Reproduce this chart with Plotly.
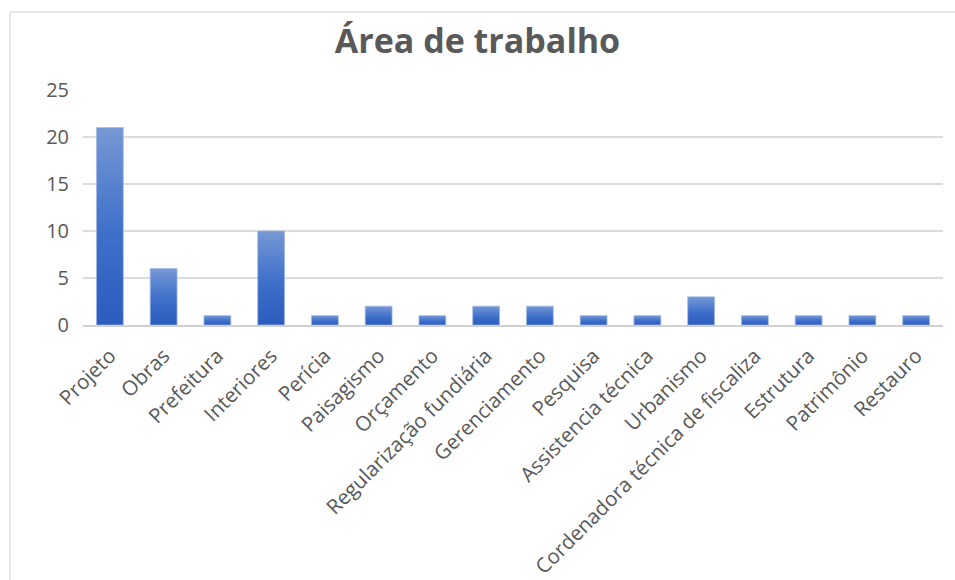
import plotly.graph_objects as go

# Work areas and how many respondents chose each
categories = [
    "Projeto", "Obras", "Prefeitura", "Interiores", "Perícia", "Paisagismo",
    "Orçamento", "Regularização fundiária", "Gerenciamento", "Pesquisa",
    "Assistencia técnica", "Urbanismo", "Cordenadora técnica de fiscaliza",
    "Estrutura", "Patrimônio", "Restauro",
]
counts = [21, 6, 1, 10, 1, 2, 1, 2, 2, 1, 1, 3, 1, 1, 1, 1]
y_ticks = [0, 5, 10, 15, 20, 25]

BAR_HALF = 0.25
GREY = "#595959"

fig = go.Figure()

# Each bar is a filled rectangle so it can carry a vertical gradient
for i, v in enumerate(counts):
    fig.add_trace(go.Scatter(
        x=[i - BAR_HALF, i + BAR_HALF, i + BAR_HALF, i - BAR_HALF, i - BAR_HALF],
        y=[0, 0, v, v, 0],
        mode="lines",
        line=dict(width=0.8, color="rgba(160,185,230,0.9)"),
        fill="toself",
        fillgradient=dict(
            type="vertical",
            colorscale=[[0, "#2c5cbd"], [0.45, "#3e6fcb"], [1, "#7698d4"]],
        ),
        hoverinfo="text",
        text=f"{categories[i]}: {v}",
        showlegend=False,
    ))

fig.update_layout(
    width=955,
    height=580,
    margin=dict(l=83, r=12, t=90, b=255),
    paper_bgcolor="white",
    plot_bgcolor="white",
    font=dict(family="Open Sans", color=GREY),
    title=dict(
        text="<b>Área de trabalho</b>",
        x=0.5, xanchor="center",
        y=0.93, yanchor="middle",
        font=dict(family="Open Sans", size=34, color=GREY),
    ),
    xaxis=dict(
        range=[-0.5, len(categories) - 0.5],
        tickmode="array",
        tickvals=list(range(len(categories))),
        ticktext=categories,
        tickangle=-45,
        tickfont=dict(size=20.5, color=GREY),
        ticklabelstandoff=9,
        automargin=False,
        showgrid=False,
        zeroline=False,
        showline=True,
        linecolor="#d0d0d0",
        linewidth=1.5,
        ticks="",
        fixedrange=True,
    ),
    yaxis=dict(
        range=[0, 25],
        tickmode="array",
        tickvals=y_ticks,
        tickfont=dict(size=20, color=GREY),
        automargin=False,
        showgrid=True,
        gridcolor="#dcdcdc",
        gridwidth=1.5,
        zeroline=False,
        showline=False,
        ticks="",
        ticklabelstandoff=13,
        fixedrange=True,
    ),
    shapes=[
        # chart frame (left and top edges)
        dict(type="line", xref="paper", yref="paper",
             x0=-0.085, x1=-0.085, y0=1.332, y1=-1.2,
             line=dict(color="#e0e0e0", width=1.5)),
        dict(type="line", xref="paper", yref="paper",
             x0=-0.085, x1=1.1, y0=1.332, y1=1.332,
             line=dict(color="#e0e0e0", width=1.5)),
    ],
)

fig.write_html("out.html")
